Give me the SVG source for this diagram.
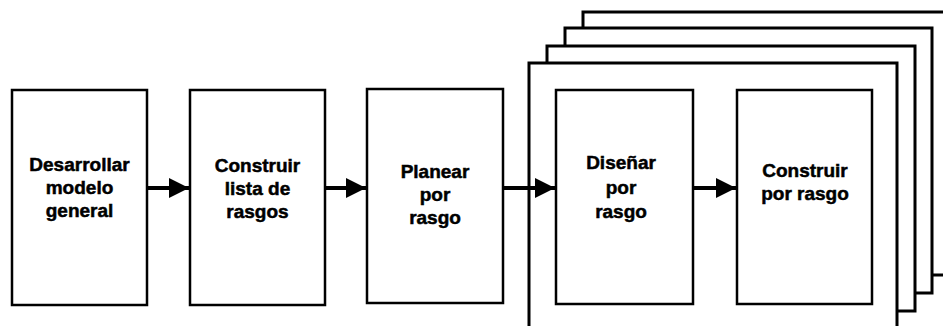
<svg xmlns="http://www.w3.org/2000/svg" width="943" height="326" viewBox="0 0 943 326">
<style>
.box{fill:#fff;stroke:#000;stroke-width:2.5}
.frame{fill:none;stroke:#000;stroke-width:3;stroke-linejoin:miter}
.lbl{font-family:"Liberation Sans",Arial,sans-serif;font-weight:bold;font-size:19px;fill:#000;stroke:#000;stroke-width:0.5;text-anchor:middle}
.conn{stroke:#000;stroke-width:4;fill:none}
</style>
<defs>
<marker id="ah" viewBox="0 0 20 20" refX="20" refY="10" markerWidth="20" markerHeight="20" markerUnits="userSpaceOnUse" orient="auto">
<path d="M0,0 L20,10 L0,20 Z" fill="#000"/>
</marker>
</defs>
<rect width="943" height="326" fill="#fff"/>
<g id="stack">
<path class="frame" d="M583,28 V12 H945 M932,275 H945"/>
<path class="frame" d="M565,46 V28 H932 V293 H915"/>
<path class="frame" d="M547,63 V46 H915 V311 H897"/>
<path class="frame" d="M529,328 V63 H897 V328"/>
</g>
<g id="n1">
<rect class="box" x="12" y="90" width="135" height="215"/>
<text class="lbl" x="79.5"><tspan x="79.5" y="171">Desarrollar</tspan><tspan x="79.5" y="194">modelo</tspan><tspan x="79.5" y="217">general</tspan></text>
</g>
<g id="n2">
<rect class="box" x="190" y="90" width="135" height="215"/>
<text class="lbl"><tspan x="257.5" y="172">Construir</tspan><tspan x="257.5" y="195">lista de</tspan><tspan x="257.5" y="218">rasgos</tspan></text>
</g>
<g id="n3">
<rect class="box" x="367" y="89" width="136" height="214"/>
<text class="lbl"><tspan x="435" y="178">Planear</tspan><tspan x="435" y="201">por</tspan><tspan x="435" y="224">rasgo</tspan></text>
</g>
<g id="n4">
<rect class="box" x="556" y="90" width="137" height="214"/>
<text class="lbl"><tspan x="621" y="169">Diseñar</tspan><tspan x="621" y="194">por</tspan><tspan x="621" y="218">rasgo</tspan></text>
</g>
<g id="n5">
<rect class="box" x="737" y="90" width="135" height="214"/>
<text class="lbl"><tspan x="805" y="177">Construir</tspan><tspan x="805" y="200">por rasgo</tspan></text>
</g>
<g id="connectors">
<line class="conn" x1="147" y1="188" x2="189" y2="188" marker-end="url(#ah)"/>
<line class="conn" x1="325" y1="188" x2="366" y2="188" marker-end="url(#ah)"/>
<line class="conn" x1="503" y1="188" x2="555" y2="188" marker-end="url(#ah)"/>
<line class="conn" x1="693" y1="188" x2="736" y2="188" marker-end="url(#ah)"/>
</g>
</svg>
